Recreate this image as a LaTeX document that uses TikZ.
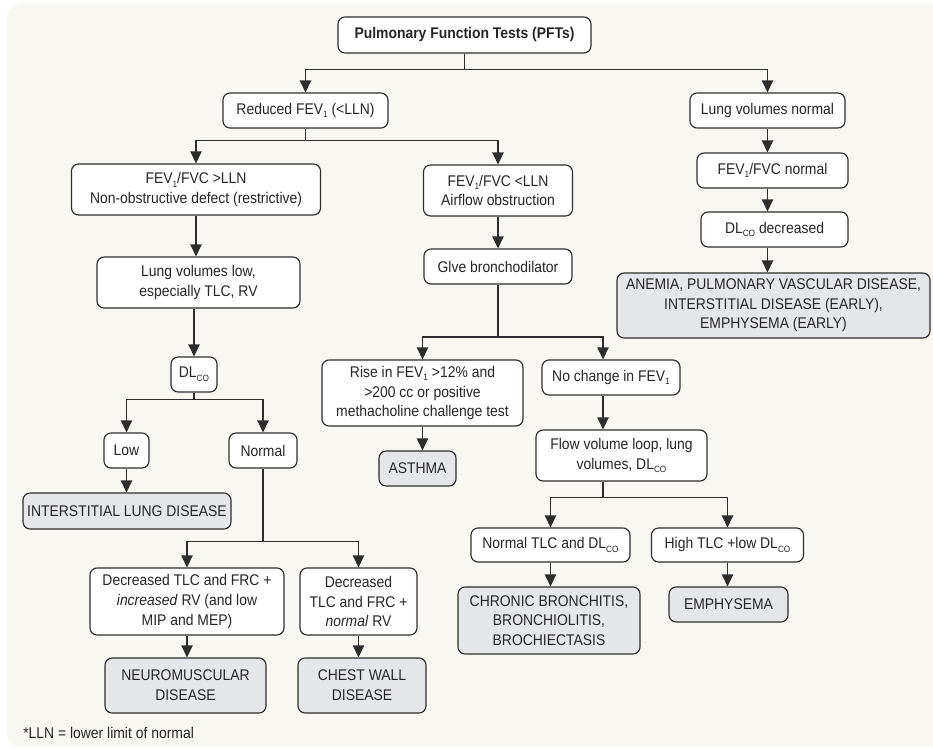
\documentclass[tikz,border=0pt]{standalone}
\usepackage{fontspec}
\setmainfont{Liberation Sans}[FakeStretch=0.9]
\usepackage{xcolor}
\usetikzlibrary{arrows.meta}
\definecolor{panelcream}{RGB}{248,247,241}
\definecolor{outgray}{RGB}{229,230,233}
\definecolor{linegray}{RGB}{45,45,45}
\newcommand{\lowsub}[1]{\raisebox{-0.45ex}{\fontsize{6.5}{7}\selectfont#1}}

\begin{document}
\begin{tikzpicture}[
  x={(0.025cm,0)}, y={(0,-0.025cm)},
  >={Triangle[length=8.5pt, width=8pt]},
  every node/.style={font=\fontsize{11}{14}\selectfont, text=black!85},
  box/.style={draw=linegray, line width=0.8pt, fill=white, rounded corners=5pt,
              align=center, inner sep=2pt},
  dx/.style={box, fill=outgray},
  wd/.style={minimum width=#1*0.025cm},
  ht/.style={minimum height=#1*0.025cm},
  conn/.style={draw=linegray, line width=0.8pt}
]
\useasboundingbox (0,0) rectangle (933,749);
\fill[white] (0,0) rectangle (933,749);
\begin{scope}
  \clip (0,0) rectangle (933,749);
  \fill[panelcream, rounded corners=10pt] (7,4) rectangle (960,747);
\end{scope}
\node[box, wd=253, ht=36, font=\fontsize{11}{14}\selectfont\bfseries] (pft) at (464.5,35)
  {Pulmonary Function Tests (PFTs)};
\node[box, wd=165, ht=35] (red) at (305.5,110.5) {Reduced FEV\lowsub{1} (<LLN)};
\node[box, wd=155, ht=35] (lvn) at (767.5,110.5) {Lung volumes normal};
\node[box, wd=249, ht=51] (rest) at (196,189.5)
  {FEV\lowsub{1}/FVC >LLN\\Non-obstructive defect (restrictive)};
\node[box, wd=149, ht=51] (obs) at (498,190.5) {FEV\lowsub{1}/FVC <LLN\\Airflow obstruction};
\node[box, wd=151, ht=35] (fvcn) at (772.5,170.5) {FEV\lowsub{1}/FVC normal};
\node[box, wd=147, ht=35] (dlcod) at (774.5,229.5) {DL\lowsub{CO} decreased};
\node[dx, wd=313, ht=65] (anem) at (773.5,305.5)
  {ANEMIA, PULMONARY VASCULAR DISEASE,\\INTERSTITIAL DISEASE (EARLY),\\EMPHYSEMA (EARLY)};
\node[box, wd=203, ht=51] (lvl) at (198.5,282.5) {Lung volumes low,\\especially TLC, RV};
\node[box, wd=148, ht=35] (bronch) at (498,266.5) {Glve bronchodilator};
\node[box, wd=46, ht=35] (dlco) at (194,374.5) {DL\lowsub{CO}};
\node[box, wd=45, ht=35] (low) at (126.5,450.5) {Low};
\node[box, wd=68, ht=35] (norm) at (263,450.5) {Normal};
\node[box, wd=201, ht=66] (rise) at (422.5,393)
  {Rise in FEV\lowsub{1} >12\% and\\>200 cc or positive\\methacholine challenge test};
\node[box, wd=138, ht=35] (noch) at (611,377.5) {No change in FEV\lowsub{1}};
\node[dx, wd=77, ht=35] (asth) at (417.5,468.5) {ASTHMA};
\node[box, wd=171, ht=51] (flow) at (621.5,455.5) {Flow volume loop, lung\\volumes, DL\lowsub{CO}};
\node[dx, wd=208, ht=36] (ild) at (127,511) {INTERSTITIAL LUNG DISEASE};
\node[box, wd=159, ht=34] (ntd) at (550.5,545) {Normal TLC and DL\lowsub{CO}};
\node[box, wd=152, ht=34] (htd) at (727.5,545) {High TLC +low DL\lowsub{CO}};
\node[box, wd=194, ht=67] (decinc) at (187,601.5)
  {Decreased TLC and FRC +\\\textit{increased} RV (and low\\MIP and MEP)};
\node[box, wd=117, ht=67] (decnorm) at (358.5,601.5) {Decreased\\TLC and FRC +\\\textit{normal} RV};
\node[dx, wd=182, ht=67] (chron) at (549,620.5) {CHRONIC BRONCHITIS,\\BRONCHIOLITIS,\\BROCHIECTASIS};
\node[dx, wd=119, ht=35] (emph) at (728.5,604.5) {EMPHYSEMA};
\node[dx, wd=161, ht=55] (neuro) at (185.5,685.5) {NEUROMUSCULAR\\DISEASE};
\node[dx, wd=128, ht=55] (chest) at (362,685.5) {CHEST WALL\\DISEASE};
\node[anchor=west, inner sep=0pt] (foot) at (23,733) {*LLN = lower limit of normal};
\coordinate (split) at (603,337);
\draw[conn, ->] (pft.south) -- ++(0,16) -| (red.north);
\draw[conn, ->] (pft.south) -- ++(0,16) -| (lvn.north);
\draw[conn, ->] (red.south) -- ++(0,12) -| (rest.north);
\draw[conn, ->] (red.south) -- ++(0,12) -| (obs.north);
\draw[conn, ->] (lvn.south) -- (lvn.south |- fvcn.north);
\draw[conn, ->] (lvn.south |- fvcn.south) -- (lvn.south |- dlcod.north);
\draw[conn, ->] (lvn.south |- dlcod.south) -- (lvn.south |- anem.north);
\draw[conn, ->] (rest.south) -- (rest.south |- lvl.north);
\draw[conn, ->] (lvl.south -| dlco.north) -- (dlco.north);
\draw[conn, ->] (dlco.south) -- ++(0,7) -| (low.north);
\draw[conn, ->] (dlco.south) -- ++(0,7) -| (norm.north);
\draw[conn, ->] (low.south) -- (low.south |- ild.north);
\draw[conn, ->] (norm.south) -- ++(0,73) -| (decinc.north);
\draw[conn, ->] (norm.south) -- ++(0,73) -| (decnorm.north);
\draw[conn, ->] (decinc.south) -- (decinc.south |- neuro.north);
\draw[conn, ->] (decnorm.south) -- (decnorm.south |- chest.north);
\draw[conn, ->] (obs.south) -- (obs.south |- bronch.north);
\draw[conn, ->] (bronch.south) |- (split) -- (split |- noch.north);
\draw[conn, ->] (bronch.south) |- (rise.north |- split) -- (rise.north);
\draw[conn, ->] (rise.south) -- (rise.south |- asth.north);
\draw[conn, ->] (split |- noch.south) -- (split |- flow.north);
\draw[conn, ->] (split |- flow.south) -- ++(0,16) -| (ntd.north);
\draw[conn, ->] (split |- flow.south) -- ++(0,16) -| (htd.north);
\draw[conn, ->] (ntd.south) -- (ntd.south |- chron.north);
\draw[conn, ->] (htd.south) -- (htd.south |- emph.north);
\end{tikzpicture}
\end{document}
